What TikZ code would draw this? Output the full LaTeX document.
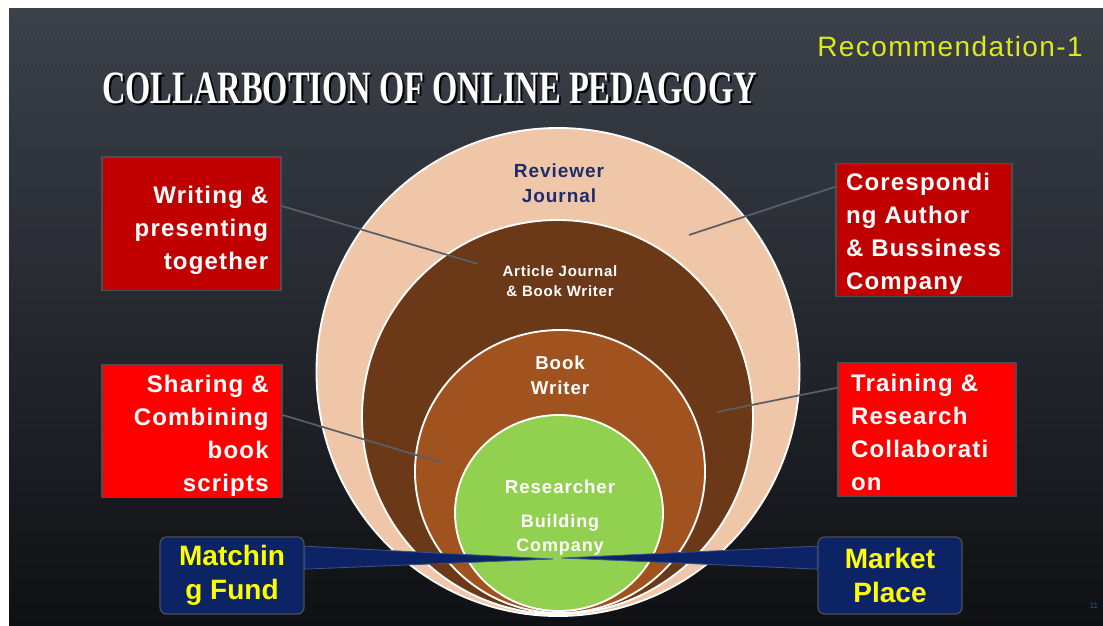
\documentclass[tikz,border=0pt]{standalone}
\usepackage{fontspec}
\usepackage{graphicx}
\setmainfont{Liberation Sans}
\newfontfamily\slidesans[LetterSpace=5]{Liberation Sans}
\newfontfamily\headserif{Liberation Serif}
\usetikzlibrary{shapes.geometric,patterns}

\definecolor{bgtop}{HTML}{3D424C}
\definecolor{bgmid}{HTML}{262A31}
\definecolor{bgbot}{HTML}{0F1114}
\definecolor{peach}{HTML}{EFC6A7}
\definecolor{darkbrown}{HTML}{6B3917}
\definecolor{midbrown}{HTML}{A0531F}
\definecolor{leaf}{HTML}{92D050}
\definecolor{navyink}{HTML}{1F2C6B}
\definecolor{deepred}{HTML}{C00000}
\definecolor{brightred}{HTML}{FF0000}
\definecolor{navybox}{HTML}{0C2466}
\definecolor{navyedge}{HTML}{3A5590}
\definecolor{fundtext}{HTML}{FFFF00}
\definecolor{recotext}{HTML}{DDEA1A}
\definecolor{boxedge}{HTML}{4A4F55}
\definecolor{leader}{HTML}{5A5E66}
\definecolor{pagenum}{HTML}{2A5599}

% condensed heading with a small drop shadow
\newcommand{\headtext}{\resizebox{491pt}{23pt}{COLLARBOTION OF ONLINE PEDAGOGY}}
\newcommand{\shadowhead}{%
  \makebox[0pt][l]{\hspace{1.6pt}\raisebox{-1.6pt}{\color{black}\headtext}}\headtext}

\begin{document}
\begin{tikzpicture}[x=0.75pt,y=-0.75pt,
  ring/.style={ellipse, draw=white, line width=1.4pt, inner sep=0pt},
  ringtext/.style={align=center, text=white, inner sep=0pt},
  sidebox/.style={rectangle, draw=boxedge, line width=1pt,
    minimum height=100pt, inner sep=0pt},
  boxtext/.style={text=white, inner sep=0pt,
    font=\slidesans\bfseries\fontsize{18}{24.75}\selectfont},
  lefttext/.style={boxtext, align=right, text width=115pt},
  righttext/.style={boxtext, align=left, text width=117pt},
  fundbox/.style={rectangle, rounded corners=5pt, fill=navybox, draw=boxedge,
    line width=1pt, text=fundtext, align=center, minimum width=108pt,
    minimum height=57.75pt, inner sep=0pt,
    font=\bfseries\fontsize{21}{25.5}\selectfont},
  leaderline/.style={draw=leader, line width=1.3pt},
  wedge/.style={fill=navybox, draw=navyedge, line width=0.6pt, line join=round}
]
\useasboundingbox (0,0) rectangle (1103,625);
\fill[white] (0,0) rectangle (1103,625);
\shade[top color=bgtop, middle color=bgmid, bottom color=bgbot] (9,8) rectangle (1103,625);
\fill[pattern=crosshatch dots, pattern color=black, opacity=0.18] (9,8) rectangle (1103,625);

% heading and slide tag
\node[inner sep=0pt, text=white, font=\headserif\bfseries] (title) at (429.5,89) {\shadowhead};
\node[inner sep=0pt, text=recotext, font=\slidesans\fontsize{21}{25}\selectfont] (reco) at (950,46) {Recommendation-1};

% nested circles
\node[ring, fill=peach, minimum width=362.25pt, minimum height=366pt] (reviewer) at (558,372) {};
\node[ring, fill=darkbrown, minimum width=293.25pt, minimum height=295.5pt] (article) at (557.5,417) {};
\node[ring, fill=midbrown, minimum width=217.5pt, minimum height=212.25pt] (bookw) at (560,471.5) {};
\node[ring, fill=leaf, minimum width=156pt, minimum height=147pt] (core) at (559,513) {};

\node[ringtext, text=navyink, font=\slidesans\bfseries\fontsize{14.25}{18.75}\selectfont] (revlabel) at (559,183) {Reviewer\\Journal};
\node[ringtext, font=\slidesans\bfseries\fontsize{11.25}{15}\selectfont] (artlabel) at (560,281) {Article Journal\\\& Book Writer};
\node[ringtext, font=\slidesans\bfseries\fontsize{14}{18.75}\selectfont] (booklabel) at (560,375) {Book\\Writer};
\node[ringtext, font=\slidesans\bfseries\fontsize{14}{18}\selectfont] (reslabel) at (560,487) {Researcher};
\node[ringtext, font=\slidesans\bfseries\fontsize{13.5}{18}\selectfont] (buildlabel) at (560,535) {Building\\Company};

% side boxes
\node[sidebox, fill=deepred, minimum width=134.25pt] (writebox) at (191.5,223.5) {};
\node[sidebox, fill=brightred, minimum width=135pt] (sharebox) at (192,431) {};
\node[sidebox, fill=deepred, minimum width=132pt] (corrbox) at (924,230) {};
\node[sidebox, fill=brightred, minimum width=133.5pt] (trainbox) at (927,429.5) {};

\node[lefttext] (writetext) at (191.5,230) {Writing \&\\presenting\\together};
\node[lefttext] (sharetext) at (192,435.5) {Sharing \&\\Combining\\book\\scripts};
\node[righttext] (corrtext) at (924,234) {Corespondi\\ng Author\\\& Bussiness\\Company};
\node[righttext] (traintext) at (929,432) {Training \&\\Research\\Collaborati\\on};

% leader lines into the rings
\coordinate (writeend) at (478,264);
\coordinate (shareend) at (443,463);
\coordinate (corrend) at (689,235);
\coordinate (trainend) at (717,412);
\draw[leaderline] (writebox.11) -- (writeend);
\draw[leaderline] (sharebox.10) -- (shareend);
\draw[leaderline] (corrbox.154) -- (corrend);
\draw[leaderline] (trainbox.155) -- (trainend);

% bottom callouts
\node[fundbox] (fundbox) at (232,575.5) {Matchin\\g Fund};
\node[fundbox] (marketbox) at (890,575.5) {Market\\Place};
\coordinate (fundtip) at (553,559);
\coordinate (markettip) at (562,558);
\filldraw[wedge] (fundbox.22) -- (fundtip) -- (fundbox.5) -- cycle;
\filldraw[wedge] (marketbox.158) -- (markettip) -- (marketbox.175) -- cycle;

\node[inner sep=0pt, text=pagenum, font=\fontsize{6}{7}\selectfont] (pageno) at (1094,606) {11};
\end{tikzpicture}
\end{document}
